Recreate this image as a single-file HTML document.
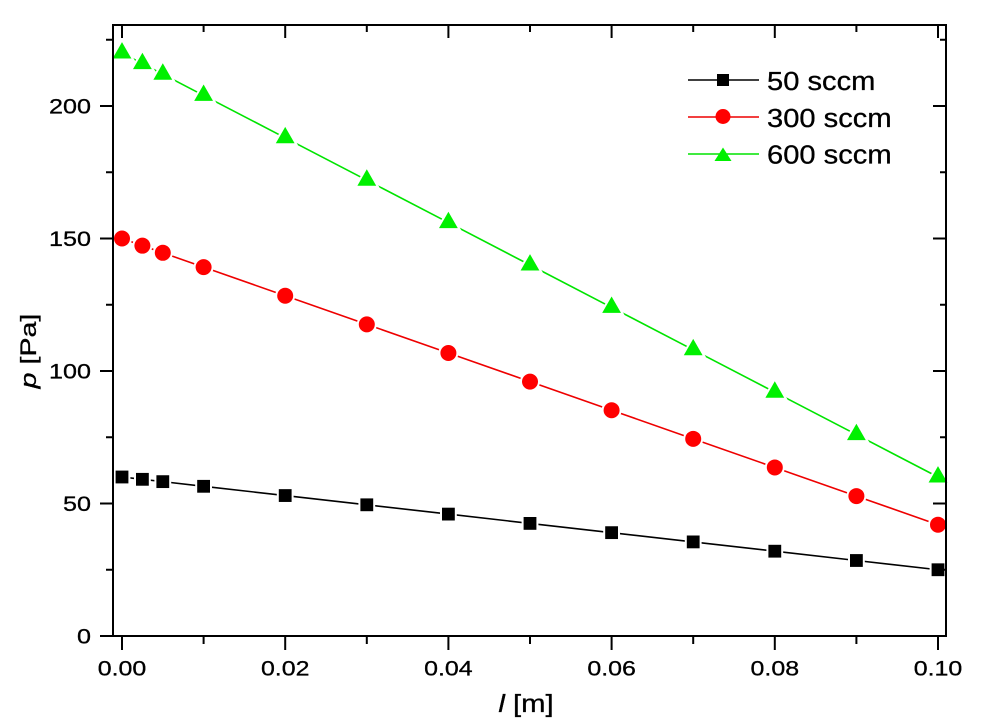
<!DOCTYPE html>
<html>
<head>
<meta charset="utf-8">
<style>
html,body{margin:0;padding:0;background:#fff;}
svg{display:block;}
text{font-family:"Liberation Sans",Arial,sans-serif;fill:#000;stroke:#000;stroke-width:0.3;}
</style>
</head>
<body>
<svg width="983" height="721" viewBox="0 0 983 721" xmlns="http://www.w3.org/2000/svg">
<rect x="0" y="0" width="983" height="721" fill="#fff"/>
<polyline fill="none" stroke="#00e400" stroke-width="1.6" points="122,53 142.4,63.6 162.8,74.2 203.6,95.4 285.2,137.8 366.8,180.2 448.4,222.6 530,265 611.6,307.4 693.2,349.8 774.8,392.2 856.4,434.6 938,477"/>
<polyline fill="none" stroke="#ee0000" stroke-width="1.6" points="122,238.5 142.4,245.66 162.8,252.81 203.6,267.12 285.2,295.74 366.8,324.36 448.4,352.98 530,381.6 611.6,410.22 693.2,438.84 774.8,467.46 856.4,496.08 938,524.7"/>
<polyline fill="none" stroke="#000" stroke-width="1.6" points="122,477 142.4,479.32 162.8,481.64 203.6,486.3 285.2,495.55 366.8,504.8 448.4,514.1 530,523.4 611.6,532.65 693.2,541.9 774.8,551.2 856.4,560.5 938,569.75"/>
<g fill="#00f000" stroke="#fff" stroke-width="4" paint-order="stroke">
<path d="M122,42.1 L131.4,58.5 L112.6,58.5Z"/>
<path d="M142.4,52.7 L151.8,69.1 L133,69.1Z"/>
<path d="M162.8,63.3 L172.2,79.7 L153.4,79.7Z"/>
<path d="M203.6,84.5 L213,100.9 L194.2,100.9Z"/>
<path d="M285.2,126.9 L294.6,143.3 L275.8,143.3Z"/>
<path d="M366.8,169.3 L376.2,185.7 L357.4,185.7Z"/>
<path d="M448.4,211.7 L457.8,228.1 L439,228.1Z"/>
<path d="M530,254.1 L539.4,270.5 L520.6,270.5Z"/>
<path d="M611.6,296.5 L621,312.9 L602.2,312.9Z"/>
<path d="M693.2,338.9 L702.6,355.3 L683.8,355.3Z"/>
<path d="M774.8,381.3 L784.2,397.7 L765.4,397.7Z"/>
<path d="M856.4,423.7 L865.8,440.1 L847,440.1Z"/>
<path d="M938,466.1 L947.4,482.5 L928.6,482.5Z"/>
</g>
<g fill="#ff0000" stroke="#fff" stroke-width="4" paint-order="stroke">
<circle cx="122" cy="238.5" r="8"/>
<circle cx="142.4" cy="245.66" r="8"/>
<circle cx="162.8" cy="252.81" r="8"/>
<circle cx="203.6" cy="267.12" r="8"/>
<circle cx="285.2" cy="295.74" r="8"/>
<circle cx="366.8" cy="324.36" r="8"/>
<circle cx="448.4" cy="352.98" r="8"/>
<circle cx="530" cy="381.6" r="8"/>
<circle cx="611.6" cy="410.22" r="8"/>
<circle cx="693.2" cy="438.84" r="8"/>
<circle cx="774.8" cy="467.46" r="8"/>
<circle cx="856.4" cy="496.08" r="8"/>
<circle cx="938" cy="524.7" r="8"/>
</g>
<g fill="#000" stroke="#fff" stroke-width="4" paint-order="stroke">
<rect x="115.6" y="470.6" width="12.8" height="12.8"/>
<rect x="136" y="472.92" width="12.8" height="12.8"/>
<rect x="156.4" y="475.24" width="12.8" height="12.8"/>
<rect x="197.2" y="479.9" width="12.8" height="12.8"/>
<rect x="278.8" y="489.15" width="12.8" height="12.8"/>
<rect x="360.4" y="498.4" width="12.8" height="12.8"/>
<rect x="442" y="507.7" width="12.8" height="12.8"/>
<rect x="523.6" y="517" width="12.8" height="12.8"/>
<rect x="605.2" y="526.25" width="12.8" height="12.8"/>
<rect x="686.8" y="535.5" width="12.8" height="12.8"/>
<rect x="768.4" y="544.8" width="12.8" height="12.8"/>
<rect x="850" y="554.1" width="12.8" height="12.8"/>
<rect x="931.6" y="563.35" width="12.8" height="12.8"/>
</g>
<rect x="113" y="25" width="833" height="611" fill="none" stroke="#000" stroke-width="2"/>
<g stroke="#000" stroke-width="2">
<line x1="100" y1="636" x2="113" y2="636"/>
<line x1="100" y1="503.5" x2="113" y2="503.5"/>
<line x1="100" y1="371" x2="113" y2="371"/>
<line x1="100" y1="238.5" x2="113" y2="238.5"/>
<line x1="100" y1="106" x2="113" y2="106"/>
<line x1="106" y1="569.75" x2="113" y2="569.75"/>
<line x1="106" y1="437.25" x2="113" y2="437.25"/>
<line x1="106" y1="304.75" x2="113" y2="304.75"/>
<line x1="106" y1="172.25" x2="113" y2="172.25"/>
<line x1="106" y1="39.75" x2="113" y2="39.75"/>
<line x1="933" y1="503.5" x2="946" y2="503.5"/>
<line x1="933" y1="371" x2="946" y2="371"/>
<line x1="933" y1="238.5" x2="946" y2="238.5"/>
<line x1="933" y1="106" x2="946" y2="106"/>
<line x1="940" y1="569.75" x2="946" y2="569.75"/>
<line x1="940" y1="437.25" x2="946" y2="437.25"/>
<line x1="940" y1="304.75" x2="946" y2="304.75"/>
<line x1="940" y1="172.25" x2="946" y2="172.25"/>
<line x1="940" y1="39.75" x2="946" y2="39.75"/>
<line x1="122" y1="636" x2="122" y2="650"/>
<line x1="285.2" y1="636" x2="285.2" y2="650"/>
<line x1="448.4" y1="636" x2="448.4" y2="650"/>
<line x1="611.6" y1="636" x2="611.6" y2="650"/>
<line x1="774.8" y1="636" x2="774.8" y2="650"/>
<line x1="938" y1="636" x2="938" y2="650"/>
<line x1="203.6" y1="636" x2="203.6" y2="644"/>
<line x1="366.8" y1="636" x2="366.8" y2="644"/>
<line x1="530" y1="636" x2="530" y2="644"/>
<line x1="693.2" y1="636" x2="693.2" y2="644"/>
<line x1="856.4" y1="636" x2="856.4" y2="644"/>
<line x1="122" y1="25" x2="122" y2="38"/>
<line x1="285.2" y1="25" x2="285.2" y2="38"/>
<line x1="448.4" y1="25" x2="448.4" y2="38"/>
<line x1="611.6" y1="25" x2="611.6" y2="38"/>
<line x1="774.8" y1="25" x2="774.8" y2="38"/>
<line x1="938" y1="25" x2="938" y2="38"/>
<line x1="203.6" y1="25" x2="203.6" y2="32"/>
<line x1="366.8" y1="25" x2="366.8" y2="32"/>
<line x1="530" y1="25" x2="530" y2="32"/>
<line x1="693.2" y1="25" x2="693.2" y2="32"/>
<line x1="856.4" y1="25" x2="856.4" y2="32"/>
</g>
<g font-size="21.5" text-anchor="end">
<text transform="translate(91,643.6) scale(1.17,1)">0</text>
<text transform="translate(91,511.1) scale(1.17,1)">50</text>
<text transform="translate(91,378.6) scale(1.17,1)">100</text>
<text transform="translate(91,246.1) scale(1.17,1)">150</text>
<text transform="translate(91,113.6) scale(1.17,1)">200</text>
</g>
<g font-size="21.5" text-anchor="middle">
<text transform="translate(122,675.7) scale(1.16,1)">0.00</text>
<text transform="translate(285.2,675.7) scale(1.16,1)">0.02</text>
<text transform="translate(448.4,675.7) scale(1.16,1)">0.04</text>
<text transform="translate(611.6,675.7) scale(1.16,1)">0.06</text>
<text transform="translate(774.8,675.7) scale(1.16,1)">0.08</text>
<text transform="translate(938,675.7) scale(1.16,1)">0.10</text>
</g>
<text font-size="25" text-anchor="middle" transform="translate(526,712) scale(1.17,1)"><tspan font-style="italic">l</tspan> [m]</text>
<text font-size="22" text-anchor="middle" transform="translate(36,351) rotate(-90) scale(1.3,1)"><tspan font-style="italic">p</tspan> [Pa]</text>
<line x1="688" y1="80" x2="759" y2="80" stroke="#000" stroke-width="1.6"/>
<rect x="717" y="74" width="12" height="12" fill="#000"/>
<line x1="688" y1="117" x2="759" y2="117" stroke="#ee0000" stroke-width="1.6"/>
<circle cx="723" cy="116.5" r="7.5" fill="#ff0000"/>
<line x1="688" y1="154" x2="759" y2="154" stroke="#00e400" stroke-width="1.6"/>
<path d="M723,147.5 L731.5,161 L714.5,161Z" fill="#00f000"/>
<g font-size="26">
<text transform="translate(767,90) scale(1.12,1)">50 sccm</text>
<text transform="translate(767,127) scale(1.12,1)">300 sccm</text>
<text transform="translate(767,163.5) scale(1.12,1)">600 sccm</text>
</g>
</svg>
</body>
</html>
